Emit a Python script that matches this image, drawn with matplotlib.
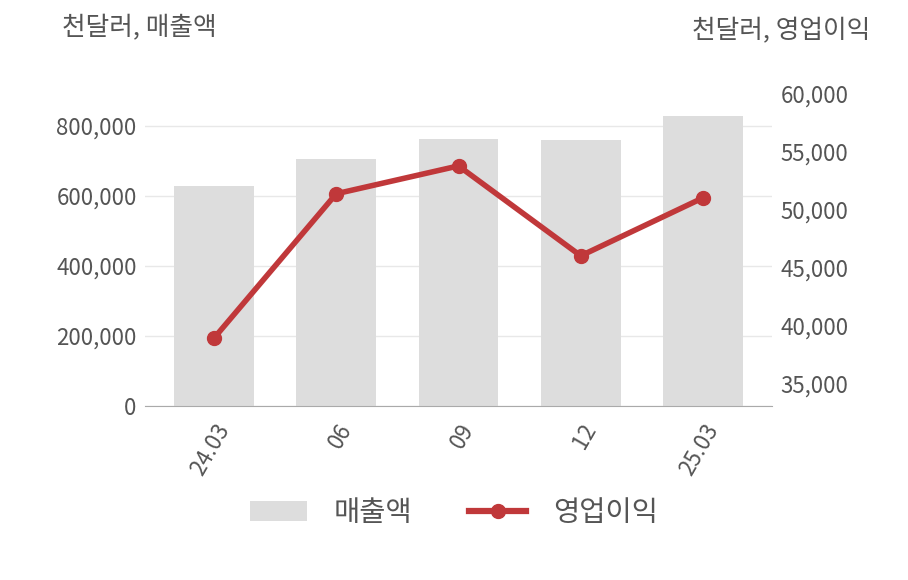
import matplotlib
matplotlib.use("Agg")
import matplotlib.pyplot as plt
from matplotlib.lines import Line2D
from matplotlib.patches import Patch

plt.rcParams['font.family'] = ['Noto Sans CJK KR', 'DejaVu Sans']

categories = ['24.03', '06', '09', '12', '25.03']
sales = [630000, 705000, 762000, 760000, 829000]
op_income = [38950, 51400, 53800, 46050, 51050]

left_ticks = [0, 200000, 400000, 600000, 800000]
right_ticks = [35000, 40000, 45000, 50000, 55000, 60000]

text_color = '#555555'
bar_color = '#dddddd'
line_color = '#c0383a'

fig = plt.figure(figsize=(9.08, 5.8), dpi=100)
ax = fig.add_axes([145/908, 1-406/580, (772-145)/908, (406-94)/580])
ax2 = ax.twinx()

x = list(range(len(categories)))
ax.bar(x, sales, width=0.65, color=bar_color, zorder=2)
ax.set_xlim(-0.564, 4.564)
ax.set_ylim(0, 891429)
ax.set_yticks(left_ticks)
ax.set_yticklabels([f'{v:,}' for v in left_ticks])
ax.grid(axis='y', color='#e8e8e8', linewidth=1, zorder=0)
ax.set_axisbelow(True)
ax.set_xticks(x)
ax.set_xticklabels(categories, rotation=60, ha='right', rotation_mode='anchor')

ax2.plot(x, op_income, color=line_color, linewidth=4, marker='o', markersize=10, zorder=5)
ax2.set_ylim(33103, 60000)
ax2.set_yticks(right_ticks)
ax2.set_yticklabels([f'{v:,}' for v in right_ticks])

for a in (ax, ax2):
    for s in ('top', 'left', 'right'):
        a.spines[s].set_visible(False)
    a.spines['bottom'].set_visible(False)
    a.tick_params(length=0, labelsize=16, colors=text_color)
ax.spines['bottom'].set_visible(True)
ax.spines['bottom'].set_color('#aaaaaa')
ax.tick_params(axis='y', pad=6)
ax.tick_params(axis='x', pad=10)
ax2.tick_params(axis='y', pad=6)

fig.text(62/908, 1-28/580, '천달러, 매출액', fontsize=18.5, color=text_color, ha='left', va='center')
fig.text(870/908, 1-31/580, '천달러, 영업이익', fontsize=18.5, color=text_color, ha='right', va='center')

handles = [Patch(facecolor=bar_color, edgecolor='none'),
           Line2D([0], [0], color=line_color, linewidth=4.5, marker='o', markersize=10)]
fig.legend(handles, ['매출액', '영업이익'], loc='center', bbox_to_anchor=(0.5, 1-513/580),
           ncol=2, frameon=False, fontsize=20.5, labelcolor=text_color,
           handlelength=2.0, handleheight=0.7, columnspacing=2.0, handletextpad=0.95)

fig.savefig('out.png', dpi=100)
